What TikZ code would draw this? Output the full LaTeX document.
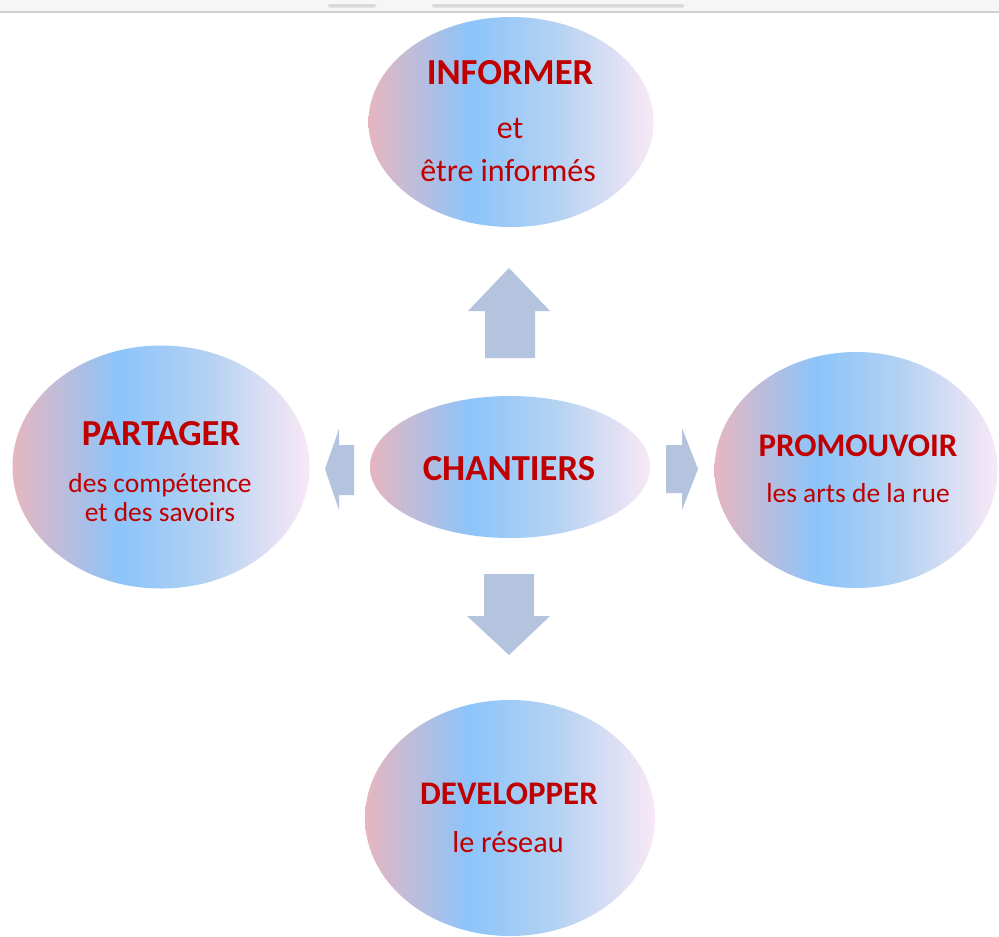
\documentclass[tikz,border=0pt]{standalone}
\usepackage{fontspec}
\setmainfont{Carlito}
\usepackage{xcolor}
\usetikzlibrary{shapes.geometric}
\usetikzlibrary{positioning}

\definecolor{rougeTexte}{RGB}{192,0,0}
\definecolor{flecheBleu}{RGB}{180,196,222}
\definecolor{bordRose}{RGB}{230,182,192}
\definecolor{cielBleu}{RGB}{140,196,250}
\definecolor{milieuBleu}{RGB}{180,210,242}
\definecolor{bordLilas}{RGB}{248,232,246}
\pgfdeclarehorizontalshading{degradeBulle}{100bp}{color(0bp)=(bordRose); color(25bp)=(bordRose); color(43bp)=(cielBleu); color(58bp)=(milieuBleu); color(75bp)=(bordLilas); color(100bp)=(bordLilas)}

\tikzset{
  bulle/.style 2 args={ellipse, shading=degradeBulle, draw=none, inner sep=0pt, minimum width=#1*0.75pt, minimum height=#2*0.75pt},
  titre/.style={anchor=base, text=rougeTexte, font=\fontsize{#1}{#1}\selectfont\bfseries},
  titre/.default=27.5,
  soustitre/.style={anchor=base, text=rougeTexte, font=\fontsize{#1}{#1}\selectfont},
  soustitre/.default=20.6,
  fleche/.style={fill=flecheBleu, draw=none}
}

\begin{document}
\begin{tikzpicture}[x=0.75pt,y=0.75pt,yscale=-1,xscale=1]
\useasboundingbox [fill=white] (0,0) rectangle (999,936);

%Shape: Rectangle [top bar]
\fill [color={rgb, 255:red, 246; green, 246; blue, 246 }] (0,0) rectangle (999,11);
\draw [color={rgb, 255:red, 208; green, 208; blue, 208 }, line width=1.2] (0,12) -- (999,12);
\fill [color={rgb, 255:red, 218; green, 218; blue, 218 }, rounded corners=1] (328,4) rectangle (376,7.5);
\fill [color={rgb, 255:red, 218; green, 218; blue, 218 }, rounded corners=1] (432,4) rectangle (684,7.5);

%Shape: Ellipse
\node [bulle={285}{210}] (informer) at (511,122) {};
\node [bulle={280}{142}] (chantiers) at (510,467) {};
\node [bulle={297}{243}] (partager) at (161,467) {};
\node [bulle={283}{236}] (promouvoir) at (856,470) {};
\node [bulle={290}{236}] (developper) at (510,818) {};

%Shape: Up Arrow
\path [fleche] (485,358) -- (485,311) -- (468,311) -- (509,268) -- (550,311) -- (535,311) -- (535,358) -- cycle ;
%Shape: Down Arrow
\path [fleche] (484,574) -- (534,574) -- (534,616) -- (550,616) -- (509,655) -- (467,616) -- (484,616) -- cycle ;
%Shape: Right Arrow
\path [fleche] (666,445) -- (682,445) -- (682,428) -- (698,469) -- (682,510) -- (682,493) -- (666,493) -- cycle ;
%Shape: Left Arrow
\path [fleche] (354,445) -- (339,445) -- (339,429) -- (325,469) -- (339,510) -- (339,495) -- (354,495) -- cycle ;

% Text Node
\node [titre] (informerT) at (510,84) {INFORMER};
\node [soustitre=24] (informerA) at (510,138) {et};
\node [soustitre=24] (informerB) at (508,181) {être informés};
% Text Node
\node [titre] (chantiersT) at (509,480) {CHANTIERS};
% Text Node
\node [titre] (partagerT) at (161,445) {PARTAGER};
\node [soustitre] (partagerA) at (160,492) {des compétence};
\node [soustitre] (partagerB) at (160,521) {et des savoirs};
% Text Node
\node [titre=24.7] (promouvoirT) at (858,456) {PROMOUVOIR};
\node [soustitre] (promouvoirA) at (858,502) {les arts de la rue};
% Text Node
\node [titre=24.7] (developperT) at (509,804) {DEVELOPPER};
\node [soustitre=22.7] (developperA) at (508,852) {le réseau};

\end{tikzpicture}
\end{document}
